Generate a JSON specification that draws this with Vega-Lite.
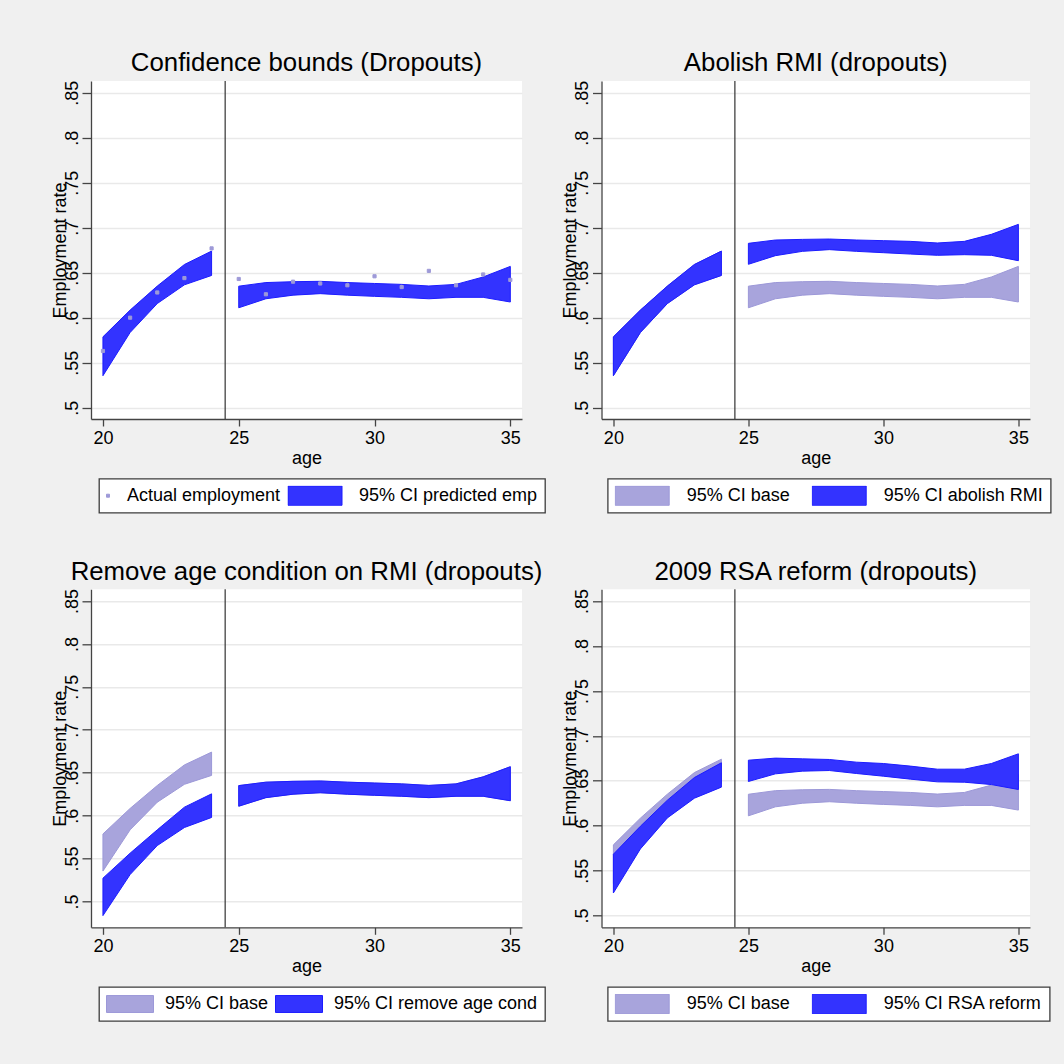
{
  "$schema": "https://vega.github.io/schema/vega-lite/v6.json",
  "background": "#f0f0f0",
  "padding": {"left": 51, "top": 50, "right": 27, "bottom": 50},
  "datasets": {
    "bands": [
      {"series": "base", "seg": "a", "age": 20, "lo": 0.5355, "hi": 0.5787},
      {"series": "base", "seg": "a", "age": 21, "lo": 0.5835, "hi": 0.6084},
      {"series": "base", "seg": "a", "age": 22, "lo": 0.6157, "hi": 0.6351},
      {"series": "base", "seg": "a", "age": 23, "lo": 0.6365, "hi": 0.6591},
      {"series": "base", "seg": "a", "age": 24, "lo": 0.6469, "hi": 0.674},
      {"series": "base", "seg": "b", "age": 25, "lo": 0.611, "hi": 0.635},
      {"series": "base", "seg": "b", "age": 26, "lo": 0.621, "hi": 0.639},
      {"series": "base", "seg": "b", "age": 27, "lo": 0.625, "hi": 0.64},
      {"series": "base", "seg": "b", "age": 28, "lo": 0.6267, "hi": 0.6404},
      {"series": "base", "seg": "b", "age": 29, "lo": 0.625, "hi": 0.639},
      {"series": "base", "seg": "b", "age": 30, "lo": 0.6237, "hi": 0.638},
      {"series": "base", "seg": "b", "age": 31, "lo": 0.6226, "hi": 0.637},
      {"series": "base", "seg": "b", "age": 32, "lo": 0.621, "hi": 0.6352},
      {"series": "base", "seg": "b", "age": 33, "lo": 0.6226, "hi": 0.637},
      {"series": "base", "seg": "b", "age": 34, "lo": 0.6226, "hi": 0.6452},
      {"series": "base", "seg": "b", "age": 35, "lo": 0.6174, "hi": 0.657},
      {"series": "abolish", "seg": "a", "age": 20, "lo": 0.5355, "hi": 0.5787},
      {"series": "abolish", "seg": "a", "age": 21, "lo": 0.5835, "hi": 0.6084},
      {"series": "abolish", "seg": "a", "age": 22, "lo": 0.6157, "hi": 0.6351},
      {"series": "abolish", "seg": "a", "age": 23, "lo": 0.6365, "hi": 0.6591},
      {"series": "abolish", "seg": "a", "age": 24, "lo": 0.6469, "hi": 0.674},
      {"series": "abolish", "seg": "b", "age": 25, "lo": 0.6593, "hi": 0.6826},
      {"series": "abolish", "seg": "b", "age": 26, "lo": 0.6689, "hi": 0.6863},
      {"series": "abolish", "seg": "b", "age": 27, "lo": 0.6737, "hi": 0.687},
      {"series": "abolish", "seg": "b", "age": 28, "lo": 0.6756, "hi": 0.6874},
      {"series": "abolish", "seg": "b", "age": 29, "lo": 0.6737, "hi": 0.6863},
      {"series": "abolish", "seg": "b", "age": 30, "lo": 0.6722, "hi": 0.6856},
      {"series": "abolish", "seg": "b", "age": 31, "lo": 0.6707, "hi": 0.6848},
      {"series": "abolish", "seg": "b", "age": 32, "lo": 0.6693, "hi": 0.683},
      {"series": "abolish", "seg": "b", "age": 33, "lo": 0.67, "hi": 0.6848},
      {"series": "abolish", "seg": "b", "age": 34, "lo": 0.6693, "hi": 0.6926},
      {"series": "abolish", "seg": "b", "age": 35, "lo": 0.6633, "hi": 0.7037},
      {"series": "noage", "seg": "a", "age": 20, "lo": 0.4836, "hi": 0.5272},
      {"series": "noage", "seg": "a", "age": 21, "lo": 0.5314, "hi": 0.5563},
      {"series": "noage", "seg": "a", "age": 22, "lo": 0.5652, "hi": 0.5835},
      {"series": "noage", "seg": "a", "age": 23, "lo": 0.5862, "hi": 0.6099},
      {"series": "noage", "seg": "a", "age": 24, "lo": 0.5979, "hi": 0.6254},
      {"series": "noage", "seg": "b", "age": 25, "lo": 0.611, "hi": 0.635},
      {"series": "noage", "seg": "b", "age": 26, "lo": 0.621, "hi": 0.639},
      {"series": "noage", "seg": "b", "age": 27, "lo": 0.625, "hi": 0.64},
      {"series": "noage", "seg": "b", "age": 28, "lo": 0.6267, "hi": 0.6404},
      {"series": "noage", "seg": "b", "age": 29, "lo": 0.625, "hi": 0.639},
      {"series": "noage", "seg": "b", "age": 30, "lo": 0.6237, "hi": 0.638},
      {"series": "noage", "seg": "b", "age": 31, "lo": 0.6226, "hi": 0.637},
      {"series": "noage", "seg": "b", "age": 32, "lo": 0.621, "hi": 0.6352},
      {"series": "noage", "seg": "b", "age": 33, "lo": 0.6226, "hi": 0.637},
      {"series": "noage", "seg": "b", "age": 34, "lo": 0.6226, "hi": 0.6452},
      {"series": "noage", "seg": "b", "age": 35, "lo": 0.6174, "hi": 0.657},
      {"series": "rsa", "seg": "a", "age": 20, "lo": 0.5252, "hi": 0.5683},
      {"series": "rsa", "seg": "a", "age": 21, "lo": 0.5742, "hi": 0.5994},
      {"series": "rsa", "seg": "a", "age": 22, "lo": 0.6087, "hi": 0.6284},
      {"series": "rsa", "seg": "a", "age": 23, "lo": 0.6306, "hi": 0.6536},
      {"series": "rsa", "seg": "a", "age": 24, "lo": 0.6429, "hi": 0.67},
      {"series": "rsa", "seg": "b", "age": 25, "lo": 0.6492, "hi": 0.6729},
      {"series": "rsa", "seg": "b", "age": 26, "lo": 0.6577, "hi": 0.6752},
      {"series": "rsa", "seg": "b", "age": 27, "lo": 0.6607, "hi": 0.6744},
      {"series": "rsa", "seg": "b", "age": 28, "lo": 0.6614, "hi": 0.6737},
      {"series": "rsa", "seg": "b", "age": 29, "lo": 0.6581, "hi": 0.6707},
      {"series": "rsa", "seg": "b", "age": 30, "lo": 0.6551, "hi": 0.6692},
      {"series": "rsa", "seg": "b", "age": 31, "lo": 0.6518, "hi": 0.6663},
      {"series": "rsa", "seg": "b", "age": 32, "lo": 0.6488, "hi": 0.6629},
      {"series": "rsa", "seg": "b", "age": 33, "lo": 0.6484, "hi": 0.6629},
      {"series": "rsa", "seg": "b", "age": 34, "lo": 0.6458, "hi": 0.6692},
      {"series": "rsa", "seg": "b", "age": 35, "lo": 0.6403, "hi": 0.68}
    ],
    "actual": [
      {"series": "actual", "age": 20, "rate": 0.563},
      {"series": "actual", "age": 21, "rate": 0.6},
      {"series": "actual", "age": 22, "rate": 0.628},
      {"series": "actual", "age": 23, "rate": 0.644},
      {"series": "actual", "age": 24, "rate": 0.677},
      {"series": "actual", "age": 25, "rate": 0.643},
      {"series": "actual", "age": 26, "rate": 0.626},
      {"series": "actual", "age": 27, "rate": 0.64},
      {"series": "actual", "age": 28, "rate": 0.638},
      {"series": "actual", "age": 29, "rate": 0.636},
      {"series": "actual", "age": 30, "rate": 0.646},
      {"series": "actual", "age": 31, "rate": 0.634},
      {"series": "actual", "age": 32, "rate": 0.652},
      {"series": "actual", "age": 33, "rate": 0.636},
      {"series": "actual", "age": 34, "rate": 0.648},
      {"series": "actual", "age": 35, "rate": 0.642}
    ],
    "cutoff": [{"age": 24.5}]
  },
  "columns": 2,
  "spacing": {"column": 79.5, "row": 170.3},
  "bounds": "flush",
  "align": "each",
  "concat": [
    {
      "width": 431,
      "height": 338,
      "title": {"text": "Confidence bounds (Dropouts)"},
      "layer": [
        {
          "data": {"name": "bands"},
          "transform": [{"filter": "datum.series == 'base'"}],
          "mark": {"type": "area", "strokeWidth": 1},
          "encoding": {
            "x": {"field": "age", "type": "quantitative", "scale": {"domain": [19.56, 35.43], "nice": false, "zero": false}, "axis": {"title": "age", "values": [20, 25, 30, 35], "titleX": 215.5}},
            "y": {"field": "hi", "type": "quantitative", "scale": {"domain": [0.4874, 0.863], "nice": false, "zero": false}, "axis": {"title": "Employment rate", "values": [0.5, 0.55, 0.6, 0.65, 0.7, 0.75, 0.8, 0.85], "labelExpr": "substring(format(datum.value, '.2~f'), 1)"}},
            "y2": {"field": "lo"},
            "detail": {"field": "seg"},
            "fill": {"field": "series", "type": "nominal", "scale": {"domain": ["actual", "base"], "range": ["#9e9ad8", "#3333ff"]},
              "legend": {"legendX": 8, "legendY": 397.7, "columnPadding": 6.5,
                "labelExpr": "datum.value == 'actual' ? 'Actual employment' : '95% CI predicted emp'",
                "encode": {
                  "symbols": {"update": {"shape": {"signal": "datum.value == 'actual' ? 'M-1,-0.0556H-0.889V0.0556H-1Z' : 'M-1,-0.36H1V0.36H-1Z'"}}},
                  "labels": {"update": {"x": {"signal": "datum.value == 'actual' ? 21 : 71.5"}}},
                  "legend": {"update": {"strokeWidth": {"value": 1.3}}}
                }}},
            "stroke": {"field": "series", "type": "nominal", "scale": {"domain": ["actual", "base"], "range": ["#9e9ad8", "#1c1cff"]}}
          }
        },
        {
          "data": {"name": "actual"},
          "mark": {"type": "point", "shape": "square", "filled": true, "opacity": 1, "size": 10, "strokeWidth": 1},
          "encoding": {
            "x": {"field": "age", "type": "quantitative"},
            "y": {"field": "rate", "type": "quantitative"},
            "fill": {"field": "series", "type": "nominal"},
            "stroke": {"field": "series", "type": "nominal"}
          }
        },
        {
          "data": {"name": "cutoff"},
          "mark": {"type": "rule", "color": "#333333", "strokeWidth": 1.2},
          "encoding": {"x": {"field": "age", "type": "quantitative"}}
        }
      ]
    },
    {
      "width": 428.5,
      "height": 338,
      "title": {"text": "Abolish RMI (dropouts)"},
      "data": {"name": "bands"},
      "layer": [
        {
          "transform": [{"filter": "datum.series == 'base'"}],
          "mark": {"type": "area", "strokeWidth": 1},
          "encoding": {
            "x": {"field": "age", "type": "quantitative", "scale": {"domain": [19.56, 35.43], "nice": false, "zero": false}, "axis": {"title": "age", "values": [20, 25, 30, 35], "titleX": 214.25}},
            "y": {"field": "hi", "type": "quantitative", "scale": {"domain": [0.4874, 0.863], "nice": false, "zero": false}, "axis": {"title": "Employment rate", "values": [0.5, 0.55, 0.6, 0.65, 0.7, 0.75, 0.8, 0.85], "labelExpr": "substring(format(datum.value, '.2~f'), 1)"}},
            "y2": {"field": "lo"},
            "detail": {"field": "seg"},
            "fill": {"field": "series", "type": "nominal", "scale": {"domain": ["base", "abolish"], "range": ["#a8a4dc", "#3333ff"]},
              "legend": {"legendX": 6.2, "legendY": 397.7,
                "labelExpr": "datum.value == 'base' ? '95% CI base' : '95% CI abolish RMI'",
                "encode": {"legend": {"update": {"strokeWidth": {"value": 1.3}}}}}},
            "stroke": {"field": "series", "type": "nominal", "scale": {"domain": ["base", "abolish"], "range": ["#9c98d8", "#1c1cff"]}}
          }
        },
        {
          "transform": [{"filter": "datum.series == 'abolish'"}],
          "mark": {"type": "area", "strokeWidth": 1},
          "encoding": {
            "x": {"field": "age", "type": "quantitative"},
            "y": {"field": "hi", "type": "quantitative"},
            "y2": {"field": "lo"},
            "detail": {"field": "seg"},
            "fill": {"field": "series", "type": "nominal"},
            "stroke": {"field": "series", "type": "nominal"}
          }
        },
        {
          "data": {"name": "cutoff"},
          "mark": {"type": "rule", "color": "#333333", "strokeWidth": 1.2},
          "encoding": {"x": {"field": "age", "type": "quantitative"}}
        }
      ]
    },
    {
      "width": 431,
      "height": 338,
      "title": {"text": "Remove age condition on RMI (dropouts)"},
      "data": {"name": "bands"},
      "layer": [
        {
          "transform": [{"filter": "datum.series == 'base'"}],
          "mark": {"type": "area", "strokeWidth": 1},
          "encoding": {
            "x": {"field": "age", "type": "quantitative", "scale": {"domain": [19.56, 35.43], "nice": false, "zero": false}, "axis": {"title": "age", "values": [20, 25, 30, 35], "titleX": 215.5}},
            "y": {"field": "hi", "type": "quantitative", "scale": {"domain": [0.47, 0.8636], "nice": false, "zero": false}, "axis": {"title": "Employment rate", "values": [0.5, 0.55, 0.6, 0.65, 0.7, 0.75, 0.8, 0.85], "labelExpr": "substring(format(datum.value, '.2~f'), 1)"}},
            "y2": {"field": "lo"},
            "detail": {"field": "seg"},
            "fill": {"field": "series", "type": "nominal", "scale": {"domain": ["base", "noage"], "range": ["#a8a4dc", "#3333ff"]},
              "legend": {"legendX": 8, "legendY": 397.7, "symbolSize": 2209, "labelOffset": 11, "columnPadding": 6,
                "labelExpr": "datum.value == 'base' ? '95% CI base' : '95% CI remove age cond'",
                "encode": {"legend": {"update": {"strokeWidth": {"value": 1.3}}}}}},
            "stroke": {"field": "series", "type": "nominal", "scale": {"domain": ["base", "noage"], "range": ["#9c98d8", "#1c1cff"]}}
          }
        },
        {
          "transform": [{"filter": "datum.series == 'noage'"}],
          "mark": {"type": "area", "strokeWidth": 1},
          "encoding": {
            "x": {"field": "age", "type": "quantitative"},
            "y": {"field": "hi", "type": "quantitative"},
            "y2": {"field": "lo"},
            "detail": {"field": "seg"},
            "fill": {"field": "series", "type": "nominal"},
            "stroke": {"field": "series", "type": "nominal"}
          }
        },
        {
          "data": {"name": "cutoff"},
          "mark": {"type": "rule", "color": "#333333", "strokeWidth": 1.2},
          "encoding": {"x": {"field": "age", "type": "quantitative"}}
        }
      ]
    },
    {
      "width": 428.5,
      "height": 338,
      "title": {"text": "2009 RSA reform (dropouts)"},
      "data": {"name": "bands"},
      "layer": [
        {
          "transform": [{"filter": "datum.series == 'base'"}],
          "mark": {"type": "area", "strokeWidth": 1},
          "encoding": {
            "x": {"field": "age", "type": "quantitative", "scale": {"domain": [19.56, 35.43], "nice": false, "zero": false}, "axis": {"title": "age", "values": [20, 25, 30, 35], "titleX": 214.25}},
            "y": {"field": "hi", "type": "quantitative", "scale": {"domain": [0.487, 0.863], "nice": false, "zero": false}, "axis": {"title": "Employment rate", "values": [0.5, 0.55, 0.6, 0.65, 0.7, 0.75, 0.8, 0.85], "labelExpr": "substring(format(datum.value, '.2~f'), 1)"}},
            "y2": {"field": "lo"},
            "detail": {"field": "seg"},
            "fill": {"field": "series", "type": "nominal", "scale": {"domain": ["base", "rsa"], "range": ["#a8a4dc", "#3333ff"]},
              "legend": {"legendX": 6.2, "legendY": 397.7,
                "labelExpr": "datum.value == 'base' ? '95% CI base' : '95% CI RSA reform'",
                "encode": {"legend": {"update": {"strokeWidth": {"value": 1.3}}}}}},
            "stroke": {"field": "series", "type": "nominal", "scale": {"domain": ["base", "rsa"], "range": ["#9c98d8", "#1c1cff"]}}
          }
        },
        {
          "transform": [{"filter": "datum.series == 'rsa'"}],
          "mark": {"type": "area", "strokeWidth": 1},
          "encoding": {
            "x": {"field": "age", "type": "quantitative"},
            "y": {"field": "hi", "type": "quantitative"},
            "y2": {"field": "lo"},
            "detail": {"field": "seg"},
            "fill": {"field": "series", "type": "nominal"},
            "stroke": {"field": "series", "type": "nominal"}
          }
        },
        {
          "data": {"name": "cutoff"},
          "mark": {"type": "rule", "color": "#333333", "strokeWidth": 1.2},
          "encoding": {"x": {"field": "age", "type": "quantitative"}}
        }
      ]
    }
  ],
  "resolve": {
    "scale": {"x": "independent", "y": "independent", "fill": "independent", "stroke": "independent"},
    "axis": {"x": "independent", "y": "independent"},
    "legend": {"fill": "independent", "stroke": "independent"}
  },
  "config": {
    "font": "Liberation Sans",
    "view": {"fill": "white", "stroke": null},
    "title": {"fontSize": 25.8, "fontWeight": "normal", "color": "#000000", "frame": "group", "anchor": "middle", "offset": 3, "baseline": "alphabetic"},
    "axis": {
      "domainColor": "#444444", "domainWidth": 1.3, "tickColor": "#444444", "tickWidth": 1.3,
      "labelColor": "#000000", "titleColor": "#000000", "titleFontWeight": "normal", "titleFontSize": 18,
      "gridColor": "#e9e9e9", "gridWidth": 1.6
    },
    "axisX": {"grid": false, "tickSize": 7, "labelPadding": 3, "labelFontSize": 18, "titleY": 44, "titleBaseline": "alphabetic"},
    "axisY": {"grid": true, "tickSize": 9, "labelPadding": 5, "labelAngle": 270, "labelAlign": "center", "labelBaseline": "alphabetic", "labelFontSize": 18,
      "titleX": -26, "titleY": 169, "titleAngle": 270, "titleAlign": "center", "titleBaseline": "alphabetic"},
    "legend": {
      "title": null, "orient": "none", "direction": "horizontal", "padding": 7,
      "strokeColor": "#3c3c3c", "fillColor": "#ffffff",
      "symbolType": "M-1,-0.36H1V0.36H-1Z", "symbolSize": 2916, "symbolStrokeWidth": 1, "symbolOpacity": 1, "symbolOffset": 0,
      "labelOffset": 17, "columnPadding": 21, "clipHeight": 20,
      "labelFontSize": 18, "labelColor": "#000000", "labelLimit": 400
    }
  }
}
